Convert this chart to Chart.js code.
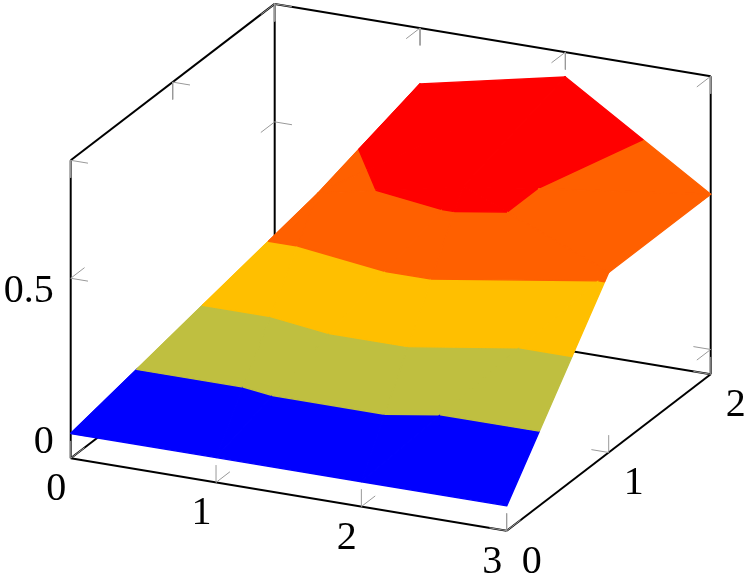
<!DOCTYPE html>
<html>
<head>
<meta charset="utf-8">
<title>Surface</title>
<script src="https://cdn.jsdelivr.net/npm/chart.js@4/dist/chart.umd.min.js"></script>
<style>
    html, body { margin: 0; padding: 0; background: #fff; }
    canvas { display: block; }
</style>
</head>
<body>
<canvas id="chart" width="747" height="579"></canvas>
<script>
// surface values, one row per y
const xValues = [0, 1, 2, 3];
const yValues = [0, 1, 2];
const zRowY0 = [0, 0, 0, 0];
const zRowY1 = [0, 0.6, 0.7, 0.5];
const zRowY2 = [0, 0.7, 0.8, 0.5];
const zRows = [zRowY0, zRowY1, zRowY2];

// filled contour bands
const bandLevels = [0, 0.16, 0.32, 0.48, 0.64, 0.8];
const bandColors = ['#0000ff', '#bfbf40', '#ffbf00', '#ff6000', '#ff0000'];

// axes
const xTicks = [0, 1, 2, 3];
const yTicks = [0, 1, 2];
const zTicks = [0, 0.5];
const xRange = [0, 3];
const yRange = [0, 2];
const zRange = [-0.08, 0.88];
const xTickLabels = ['0', '1', '2', '3'];
const yTickLabels = ['0', '1', '2'];
const zTickLabels = ['0', '0.5'];
const zLabelNudge = [-2.2, 2];

// view of the 3d box on the page
function project(x, y, z) {
    return {
        x: 70.7 + 145.33 * x + 102 * y,
        y: 458.3 + 24.13 * x - 78.2 * y - 310.4 * (z - zRange[0])
    };
}

// keeps the part of a triangle (or polygon) on one side of a z level
function clipAtLevel(poly, level, keepAbove) {
    const out = [];
    for (let i = 0; i < poly.length; i++) {
        const a = poly[i];
        const b = poly[(i + 1) % poly.length];
        const aIn = keepAbove ? a[2] >= level : a[2] <= level;
        const bIn = keepAbove ? b[2] >= level : b[2] <= level;
        if (aIn) out.push(a);
        if (aIn !== bIn) {
            const t = (level - a[2]) / (b[2] - a[2]);
            out.push([a[0] + t * (b[0] - a[0]), a[1] + t * (b[1] - a[1]), level]);
        }
    }
    return out;
}

const datasets = [];

function addLine(points, color, width) {
    datasets.push({
        data: points.map(p => project(p[0], p[1], p[2])),
        showLine: true,
        borderColor: color,
        borderWidth: width,
        pointRadius: 0,
        fill: false,
        clip: false
    });
}

function addTriangle(tri) {
    for (let b = 0; b < bandColors.length; b++) {
        let poly = clipAtLevel(tri, bandLevels[b], true);
        poly = clipAtLevel(poly, bandLevels[b + 1], false);
        if (poly.length < 3) continue;
        const closed = poly.concat([poly[0]]);
        datasets.push({
            data: closed.map(p => project(p[0], p[1], p[2])),
            showLine: true,
            borderColor: bandColors[b],
            backgroundColor: bandColors[b],
            borderWidth: 1.4,
            borderJoinStyle: 'round',
            pointRadius: 0,
            fill: 'shape',
            clip: false
        });
    }
}

const [x0, x1] = xRange;
const [y0, y1] = yRange;
const [z0, z1] = zRange;

// box edges, all of them sit behind the surface
const boxEdges = [
    [[x0, y0, z0], [x1, y0, z0]],
    [[x1, y0, z0], [x1, y1, z0]],
    [[x0, y0, z0], [x0, y1, z0]],
    [[x0, y1, z0], [x1, y1, z0]],
    [[x0, y0, z0], [x0, y0, z1]],
    [[x0, y1, z0], [x0, y1, z1]],
    [[x1, y1, z0], [x1, y1, z1]],
    [[x0, y0, z1], [x0, y1, z1]],
    [[x0, y1, z1], [x1, y1, z1]]
];
boxEdges.forEach(e => addLine(e, '#000000', 2));

// tick marks
const tickColor = '#999999';
const dx = 0.119, dy = 0.136, dz = 0.056;
xTicks.forEach(x => {
    addLine([[x, y0, z0], [x, y0, z0 + dz]], tickColor, 1);
    addLine([[x, y0, z0], [x, y0 + dy, z0]], tickColor, 1);
    addLine([[x, y1, z1], [x, y1, z1 - dz]], tickColor, 1);
    addLine([[x, y1, z1], [x, y1 - dy, z1]], tickColor, 1);
});
yTicks.forEach(y => {
    addLine([[x1, y, z0], [x1, y, z0 + dz]], tickColor, 1);
    addLine([[x1, y, z0], [x1 - dx, y, z0]], tickColor, 1);
    addLine([[x0, y, z1], [x0, y, z1 - dz]], tickColor, 1);
    addLine([[x0, y, z1], [x0 + dx, y, z1]], tickColor, 1);
});
zTicks.forEach(z => {
    addLine([[x0, y0, z], [x0 + dx, y0, z]], tickColor, 1);
    addLine([[x0, y0, z], [x0, y0 + dy, z]], tickColor, 1);
    addLine([[x0, y1, z], [x0 + dx, y1, z]], tickColor, 1);
    addLine([[x0, y1, z], [x0, y1 - dy, z]], tickColor, 1);
    addLine([[x1, y1, z], [x1 - dx, y1, z]], tickColor, 1);
    addLine([[x1, y1, z], [x1, y1 - dy, z]], tickColor, 1);
});

// surface, back to front, each cell split along its (i,j)-(i+1,j+1) diagonal
for (let i = 0; i < xValues.length - 1; i++) {
    for (let j = yValues.length - 2; j >= 0; j--) {
        const a = [xValues[i], yValues[j], zRows[j][i]];
        const b = [xValues[i + 1], yValues[j], zRows[j][i + 1]];
        const c = [xValues[i + 1], yValues[j + 1], zRows[j + 1][i + 1]];
        const d = [xValues[i], yValues[j + 1], zRows[j + 1][i]];
        addTriangle([a, c, d]);
        addTriangle([a, b, c]);
    }
}

const tickLabelPlugin = {
    id: 'tickLabels',
    afterDraw(chart) {
        const ctx = chart.ctx;
        const sx = chart.scales.x;
        const sy = chart.scales.y;
        ctx.save();
        ctx.fillStyle = '#000';
        ctx.font = '40px "Liberation Serif"';
        ctx.textBaseline = 'alphabetic';

        function put(text, p, offX, offY, align) {
            ctx.textAlign = align;
            ctx.fillText(text, sx.getPixelForValue(p.x) + offX, sy.getPixelForValue(p.y) + offY);
        }

        xTicks.forEach((x, i) => put(xTickLabels[i], project(x, y0, z0), -14.5, 42, 'center'));
        yTicks.forEach((y, i) => put(yTickLabels[i], project(x1, y, z0), 25, 42, 'center'));
        zTicks.forEach((z, i) => put(zTickLabels[i], project(x0, y0, z), -17, 22 + zLabelNudge[i], 'right'));
        ctx.restore();
    }
};

new Chart(document.getElementById('chart').getContext('2d'), {
    type: 'scatter',
    // chart.js paints the last dataset first
    data: { datasets: datasets.reverse() },
    options: {
        responsive: false,
        animation: false,
        devicePixelRatio: 1,
        layout: { padding: 0 },
        plugins: {
            legend: { display: false },
            tooltip: { enabled: false },
            title: { display: false }
        },
        scales: {
            x: { type: 'linear', display: false, min: 0, max: 747 },
            y: { type: 'linear', display: false, min: 0, max: 579, reverse: true }
        }
    },
    plugins: [tickLabelPlugin]
});
</script>
</body>
</html>
